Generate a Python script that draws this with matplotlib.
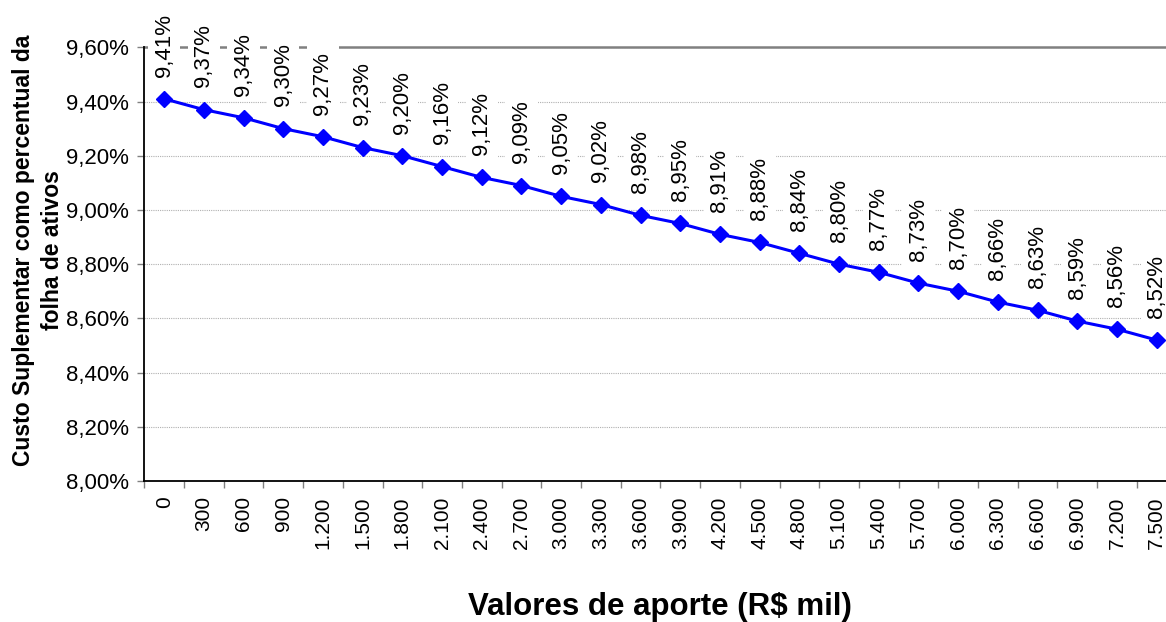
#!/usr/bin/env python3
"""
Custo suplementar como percentual da folha de ativos vs. valores de aporte.
"""

import matplotlib
matplotlib.use("Agg")
import matplotlib.pyplot as plt
from matplotlib.ticker import FixedLocator, FuncFormatter

# Data
aportes = ["0", "300", "600", "900", "1.200", "1.500", "1.800", "2.100",
           "2.400", "2.700", "3.000", "3.300", "3.600", "3.900", "4.200",
           "4.500", "4.800", "5.100", "5.400", "5.700", "6.000", "6.300",
           "6.600", "6.900", "7.200", "7.500"]
custo_pct = [9.41, 9.37, 9.34, 9.30, 9.27, 9.23, 9.20, 9.16, 9.12, 9.09,
             9.05, 9.02, 8.98, 8.95, 8.91, 8.88, 8.84, 8.80, 8.77, 8.73,
             8.70, 8.66, 8.63, 8.59, 8.56, 8.52]
y_ticks = [8.0, 8.2, 8.4, 8.6, 8.8, 9.0, 9.2, 9.4, 9.6]

plt.rcParams["font.family"] = ["Liberation Sans", "DejaVu Sans"]

W, H = 1166, 622
fig = plt.figure(figsize=(W / 100, H / 100), dpi=100)

# axes box in pixels (right edge runs past the picture, as in the source)
left, right, top, bottom = 144.3, 1176.5, 47.3, 481.0
ax = fig.add_axes([left / W, (H - bottom) / H, (right - left) / W, (bottom - top) / H])

x = list(range(len(aportes)))
ax.plot(x, custo_pct, color="#0000ff", lw=2.2, marker="D", markersize=8,
        zorder=4, clip_on=False)

for xi, v in zip(x, custo_pct):
    ax.annotate(f"{v:.2f}%".replace(".", ","), (xi, v), xytext=(0, 16),
                textcoords="offset points", rotation=90, ha="center",
                va="bottom", fontsize=16, zorder=6, annotation_clip=False,
                bbox=dict(boxstyle="square,pad=0.25", fc="white", ec="none"))

ax.set_xlim(-0.5, len(aportes) - 0.5)
ax.set_ylim(8.0, 9.6)
ax.set_yticks(y_ticks)
ax.yaxis.set_major_formatter(FuncFormatter(lambda v, p: f"{v:.2f}%".replace(".", ",")))
ax.set_xticks(x)
ax.set_xticklabels(aportes, rotation=90, fontsize=15)
ax.tick_params(axis="x", which="major", length=0, pad=11)
ax.xaxis.set_minor_locator(FixedLocator([i - 0.5 for i in range(len(aportes) + 1)]))
ax.tick_params(axis="x", which="minor", length=5, width=1, color="#808080")
ax.tick_params(axis="y", length=5, width=1, color="#808080", labelsize=16, pad=6)

ax.grid(axis="y", color="#b0b0b0", lw=0.8, ls=(0, (1, 1)), zorder=1)
ax.set_axisbelow(True)

ax.spines["right"].set_visible(False)
ax.spines["top"].set_color("#808080")
ax.spines["top"].set_linewidth(1.8)
ax.spines["top"].set_zorder(2)
ax.spines["left"].set_linewidth(1.3)
ax.spines["bottom"].set_linewidth(1.3)

fig.text(38 / W, 1 - 250 / H, "Custo Suplementar como percentual da\nfolha de ativos",
         rotation=90, ha="center", va="center", fontsize=16.5, fontweight="bold",
         multialignment="center", linespacing=1.35)
fig.text(660 / W, 1 - 607 / H, "Valores de aporte (R$ mil)", ha="center",
         va="center", fontsize=22.5, fontweight="bold")

fig.savefig("out.png", dpi=100)
